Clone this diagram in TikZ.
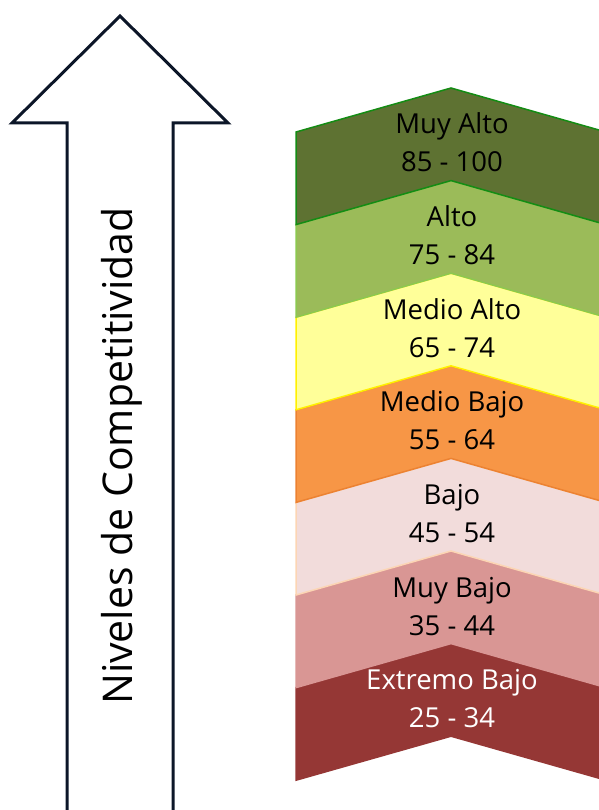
\documentclass[tikz,border=0pt]{standalone}
\usepackage{fontspec}
\setmainfont{Open Sans}
\definecolor{arrowcol}{RGB}{12,22,40}
\definecolor{fA}{RGB}{94,114,50}   \definecolor{bA}{RGB}{20,140,20}
\definecolor{fB}{RGB}{155,187,89}  \definecolor{bB}{RGB}{140,200,80}
\definecolor{fC}{RGB}{255,255,153} \definecolor{bC}{RGB}{255,240,0}
\definecolor{fD}{RGB}{247,150,70}  \definecolor{bD}{RGB}{236,130,50}
\definecolor{fE}{RGB}{242,220,219} \definecolor{bE}{RGB}{252,213,180}
\definecolor{fF}{RGB}{217,150,148} \definecolor{bF}{RGB}{217,150,148}
\definecolor{fG}{RGB}{149,55,53}   \definecolor{bG}{RGB}{149,55,53}
\tikzset{
  bigarrow/.style={line width=3pt, draw=arrowcol, fill=white, line join=miter},
  axislabel/.style={rotate=90, anchor=base, font=\fontsize{41}{48}\selectfont},
  bandtext/.style={align=center, font=\fontsize{27.5}{38}\selectfont, text=black},
  band/.style={line width=1.5pt, line join=miter}
}
\begin{document}
\begin{tikzpicture}[x=1pt,y=-1pt]
\useasboundingbox (0,0) rectangle (598,810);
% big arrow
\draw[bigarrow] (67,830) -- (67,123) -- (12,123) -- (120,16) -- (228,123) -- (173,123) -- (173,830);
\node[axislabel] (axis) at (132,456) {Niveles de Competitividad};
% chevron bands, drawn bottom-up
\foreach \k/\fc/\bc/\la/\lb/\tc in {
  6/fG/bG/Extremo Bajo/25 - 34/white,
  5/fF/bF/Muy Bajo/35 - 44/black,
  4/fE/bE/Bajo/45 - 54/black,
  3/fD/bD/Medio Bajo/55 - 64/black,
  2/fC/bC/Medio Alto/65 - 74/black,
  1/fB/bB/Alto/75 - 84/black,
  0/fA/bA/Muy Alto/85 - 100/black}{
  \pgfmathsetmacro{\ap}{88+92.6*\k}
  \pgfmathsetmacro{\bp}{\ap+92.6}
  \draw[band, fill=\fc, draw=\bc] (296,\ap+44) -- (451,\ap) -- (606,\ap+44) -- (606,\bp+44) -- (451,\bp) -- (296,\bp+44) -- cycle;
  \node[bandtext, text=\tc, anchor=base] (l1-\k) at (452,\ap+46) {\la};
  \node[bandtext, text=\tc, anchor=base] (l2-\k) at (452,\ap+84) {\lb};
}
\end{tikzpicture}
\end{document}
